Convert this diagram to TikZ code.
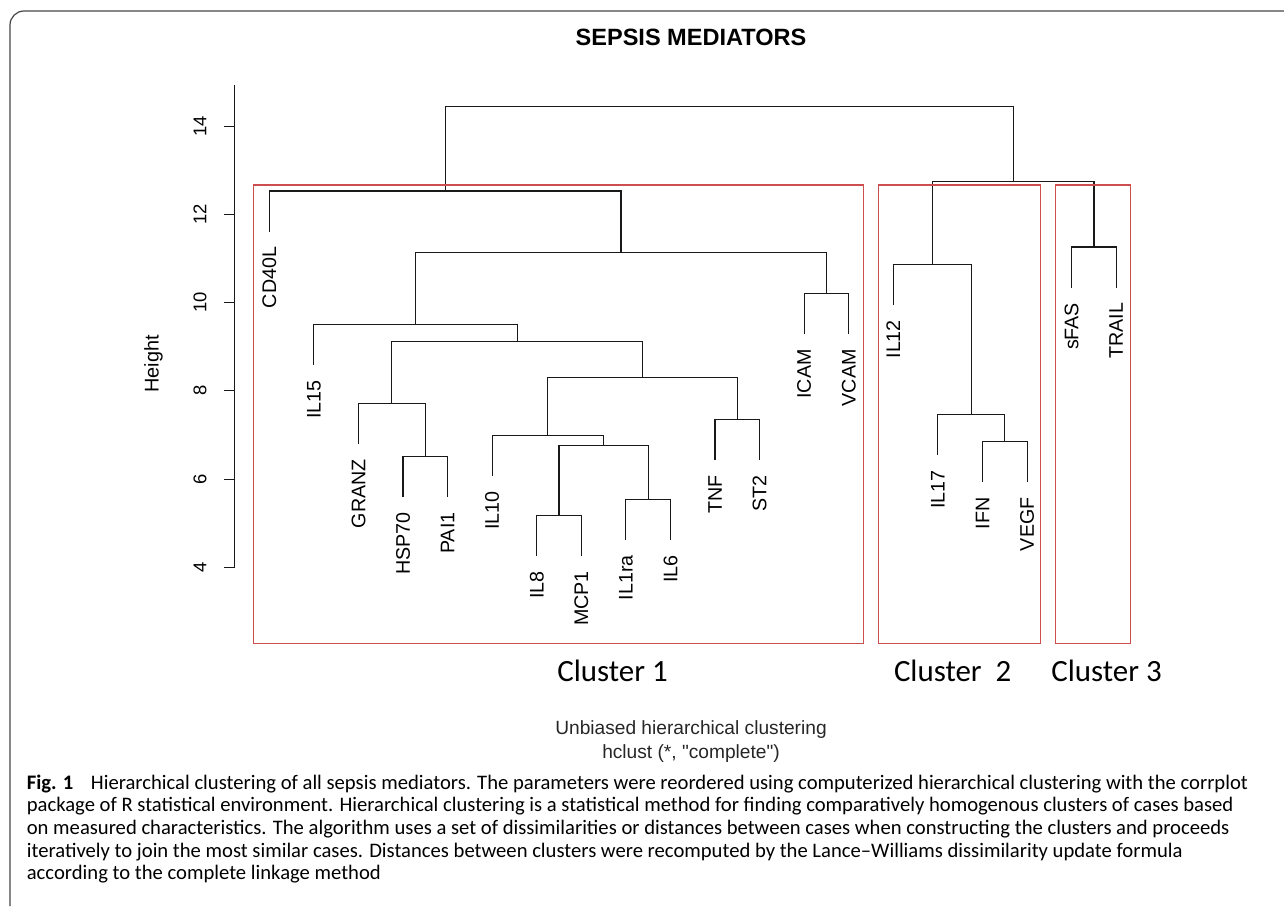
\documentclass[tikz,border=0pt]{standalone}
\usepackage{fontspec}
\setmainfont{Liberation Sans}
\newfontfamily\rplotfont{Liberation Sans}[Ligatures=TeXOff]
\newfontfamily\calibrifont{Carlito}
\usepackage{tikz}
\usetikzlibrary{positioning}
\definecolor{boxred}{RGB}{204,78,78}
\definecolor{framegray}{RGB}{70,70,70}
\definecolor{inkgray}{RGB}{25,25,25}
\tikzset
{
    branch/.style       = {draw=inkgray, line width=0.65pt},
    leaflabel/.style    = {rotate=90, anchor=east, inner xsep=0.3cm, inner ysep=0pt, font=\fontsize{11.2}{13}\selectfont},
    ticklabel/.style    = {rotate=90, inner sep=0pt, font=\fontsize{10.5}{12}\selectfont},
    clusterbox/.style   = {draw=boxred, line width=0.6pt},
    clusterlabel/.style = {anchor=base, inner sep=0pt, font=\calibrifont\fontsize{17.6}{20}\selectfont},
    plottext/.style     = {anchor=base, inner sep=0pt, text=black!85, font=\rplotfont\fontsize{10.9}{13}\selectfont},
    capline/.style      = {anchor=base west, inner sep=0pt, font=\calibrifont\fontsize{11.75}{13}\selectfont}
}

\begin{document}
\begin{tikzpicture}[x=0.02cm, y=0.02cm]
    \useasboundingbox (0,0) rectangle (1284,906);
    \draw[framegray, line width=0.7pt, rounded corners=8pt] (10,0) -- (10,895) -- (1284,895);

    \node [anchor=base, inner sep=0pt, font=\bfseries\fontsize{13.4}{15}\selectfont] (title) at (691,860) {SEPSIS MEDIATORS};

    \begin{scope}[xshift=5.388cm, yshift=3.244cm, x=0.8916cm, y=0.8826cm]
        \draw[branch] (-0.781,4) -- (-0.781,14.93);
        \draw[branch] (-0.781,4) -- (-1.023,4);
        \draw[branch] (-0.781,6) -- (-1.023,6);
        \draw[branch] (-0.781,8) -- (-1.023,8);
        \draw[branch] (-0.781,10) -- (-1.023,10);
        \draw[branch] (-0.781,12) -- (-1.023,12);
        \draw[branch] (-0.781,14) -- (-1.023,14);
        \node [ticklabel] (h4) at (-1.557,4) {4};
        \node [ticklabel] (h6) at (-1.557,6) {6};
        \node [ticklabel] (h8) at (-1.557,8) {8};
        \node [ticklabel] (h10) at (-1.557,10) {10};
        \node [ticklabel] (h12) at (-1.557,12) {12};
        \node [ticklabel] (h14) at (-1.557,14) {14};
        \node [ticklabel, font=\fontsize{11.3}{13}\selectfont] (height) at (-2.602,8.61) {Height};

        \coordinate (CD40L) at (0,11.61);
        \coordinate (IL15) at (1,8.59);
        \coordinate (GRANZ) at (2,6.80);
        \coordinate (HSP70) at (3,5.59);
        \coordinate (PAI1) at (4,5.59);
        \coordinate (IL10) at (5,6.07);
        \coordinate (IL8) at (6,4.26);
        \coordinate (MCP1) at (7,4.26);
        \coordinate (IL1ra) at (8,4.62);
        \coordinate (IL6) at (9,4.62);
        \coordinate (TNF) at (10,6.43);
        \coordinate (ST2) at (11,6.43);
        \coordinate (ICAM) at (12,9.29);
        \coordinate (VCAM) at (13,9.29);
        \coordinate (IL12) at (14,9.95);
        \coordinate (IL17) at (15,6.55);
        \coordinate (IFN) at (16,5.93);
        \coordinate (VEGF) at (17,5.93);
        \coordinate (sFAS) at (18,10.34);
        \coordinate (TRAIL) at (19,10.34);

        \coordinate (j1) at (3.5,6.51);
        \coordinate (j2) at (2.75,7.72);
        \coordinate (j3) at (6.5,5.18);
        \coordinate (j4) at (8.5,5.54);
        \coordinate (j5) at (7.5,6.76);
        \coordinate (j6) at (6.25,6.99);
        \coordinate (j7) at (10.5,7.35);
        \coordinate (j8) at (8.375,8.30);
        \coordinate (j9) at (5.5625,9.11);
        \coordinate (j10) at (3.28,9.51);
        \coordinate (j11) at (12.5,10.21);
        \coordinate (j12) at (7.89,11.13);
        \coordinate (j13) at (3.945,12.53);
        \coordinate (j14) at (16.5,6.85);
        \coordinate (j15) at (15.75,7.47);
        \coordinate (j16) at (14.875,10.87);
        \coordinate (j17) at (18.5,11.26);
        \coordinate (j18) at (16.69,12.74);
        \coordinate (j19) at (10.32,14.44);

        \draw[branch] (HSP70) |- (j1) -| (PAI1);
        \draw[branch] (GRANZ) |- (j2) -| (j1);
        \draw[branch] (IL8) |- (j3) -| (MCP1);
        \draw[branch] (IL1ra) |- (j4) -| (IL6);
        \draw[branch] (j3) |- (j5) -| (j4);
        \draw[branch] (IL10) |- (j6) -| (j5);
        \draw[branch] (TNF) |- (j7) -| (ST2);
        \draw[branch] (j6) |- (j8) -| (j7);
        \draw[branch] (j2) |- (j9) -| (j8);
        \draw[branch] (IL15) |- (j10) -| (j9);
        \draw[branch] (ICAM) |- (j11) -| (VCAM);
        \draw[branch] (j10) |- (j12) -| (j11);
        \draw[branch] (CD40L) |- (j13) -| (j12);
        \draw[branch] (IFN) |- (j14) -| (VEGF);
        \draw[branch] (IL17) |- (j15) -| (j14);
        \draw[branch] (IL12) |- (j16) -| (j15);
        \draw[branch] (sFAS) |- (j17) -| (TRAIL);
        \draw[branch] (j16) |- (j18) -| (j17);
        \draw[branch] (j13) |- (j19) -| (j18);

        \node [leaflabel] (CD40Ltxt) at (CD40L) {CD40L};
        \node [leaflabel] (IL15txt) at (IL15) {IL15};
        \node [leaflabel] (GRANZtxt) at (GRANZ) {GRANZ};
        \node [leaflabel] (HSP70txt) at (HSP70) {HSP70};
        \node [leaflabel] (PAI1txt) at (PAI1) {PAI1};
        \node [leaflabel] (IL10txt) at (IL10) {IL10};
        \node [leaflabel] (IL8txt) at (IL8) {IL8};
        \node [leaflabel] (MCP1txt) at (MCP1) {MCP1};
        \node [leaflabel] (IL1ratxt) at (IL1ra) {IL1ra};
        \node [leaflabel] (IL6txt) at (IL6) {IL6};
        \node [leaflabel] (TNFtxt) at (TNF) {TNF};
        \node [leaflabel] (ST2txt) at (ST2) {ST2};
        \node [leaflabel] (ICAMtxt) at (ICAM) {ICAM};
        \node [leaflabel] (VCAMtxt) at (VCAM) {VCAM};
        \node [leaflabel] (IL12txt) at (IL12) {IL12};
        \node [leaflabel] (IL17txt) at (IL17) {IL17};
        \node [leaflabel] (IFNtxt) at (IFN) {IFN};
        \node [leaflabel] (VEGFtxt) at (VEGF) {VEGF};
        \node [leaflabel] (sFAStxt) at (sFAS) {sFAS};
        \node [leaflabel] (TRAILtxt) at (TRAIL) {TRAIL};
    \end{scope}

    \draw[clusterbox] (253.3,262.7) rectangle (863.8,721);
    \draw[clusterbox] (878.2,262.7) rectangle (1040.8,721);
    \draw[clusterbox] (1055.6,262.7) rectangle (1130.8,721);
    \node [clusterlabel] (cluster1) at (612.5,224.3) {Cluster 1};
    \node [clusterlabel] (cluster2) at (952.7,224.3) {Cluster\ \ 2};
    \node [clusterlabel] (cluster3) at (1106.5,224.3) {Cluster 3};

    \node [plottext] (method) at (691,171.7) {Unbiased hierarchical clustering};
    \node [plottext] (linkage) at ([yshift=-0.48cm]method.base) {hclust (*, "complete")};

    \node [capline] (cap1) at (26.5,117) {\textbf{Fig. 1}\hspace{0.85em}Hierarchical clustering of all sepsis mediators. The parameters were reordered using computerized hierarchical clustering with the corrplot};
    \node [capline] (cap2) at ([yshift=-0.454cm]cap1.base west) {package of R statistical environment. Hierarchical clustering is a statistical method for finding comparatively homogenous clusters of cases based};
    \node [capline] (cap3) at ([yshift=-0.454cm]cap2.base west) {on measured characteristics. The algorithm uses a set of dissimilarities or distances between cases when constructing the clusters and proceeds};
    \node [capline] (cap4) at ([yshift=-0.454cm]cap3.base west) {iteratively to join the most similar cases. Distances between clusters were recomputed by the Lance\textendash Williams dissimilarity update formula};
    \node [capline] (cap5) at ([yshift=-0.454cm]cap4.base west) {according to the complete linkage method};
\end{tikzpicture}
\end{document}
